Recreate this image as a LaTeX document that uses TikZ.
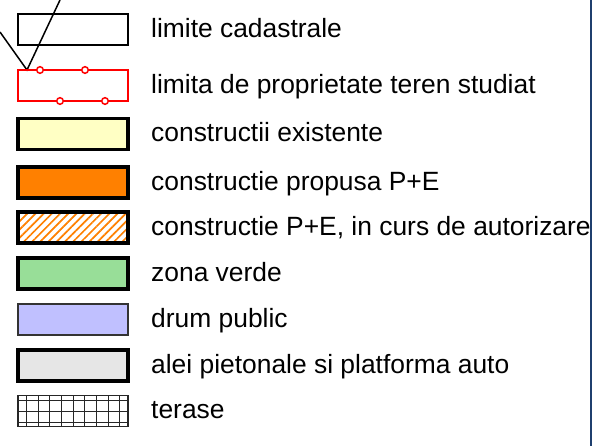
\documentclass[tikz,border=0pt]{standalone}
\usepackage{fontspec}
\setmainfont{Liberation Sans}
\usetikzlibrary{patterns.meta}
\definecolor{galben}{RGB}{255,255,196}
\definecolor{portocaliu}{RGB}{255,128,0}
\definecolor{verde}{RGB}{152,222,152}
\definecolor{albastru}{RGB}{192,192,255}
\definecolor{gri}{RGB}{230,230,230}
\definecolor{chenar}{RGB}{31,63,110}
\begin{document}
\begin{tikzpicture}[x=1pt,y=-1pt,
  caseta/.style={minimum width=110pt,minimum height=31pt,inner sep=0pt,draw,line width=3.5pt},
  eticheta/.style={anchor=base west,inner sep=0pt,font=\fontsize{26.4}{30}\selectfont}]
 \useasboundingbox (0,0) rectangle (595,446);
 % limite
 \node[caseta,line width=2pt] (s1) at (73,30) {};
 \node[eticheta] (t1) at (151,38) {limite cadastrale};
 \coordinate (colt) at (27,70);
 \coordinate (capA) at (0,32);
 \coordinate (capB) at (60,0);
 \draw[line width=1.5pt] (capA)--(colt)--(capB);
 \node[caseta,draw=red,line width=1.5pt] (s2) at (73,85.5) {};
 \foreach \cx/\cy in {40/70,85/70,60/101,105/101}
   \draw[red,line width=1.5pt,fill=white] (\cx,\cy) circle (3.3);
 \node[eticheta] (t2) at (151,93.5) {limita de proprietate teren studiat};
 % zone
 \foreach \i/\cy/\cul/\txt in {3/134/galben/constructii existente,
     4/182.5/portocaliu/constructie propusa P+E,
     6/273.5/verde/zona verde,
     8/365.5/gri/alei pietonale si platforma auto}
   {\node[caseta,fill=\cul] (s\i) at (73,\cy) {};
    \node[eticheta] (t\i) at (151,\cy+8) {\txt};}
 \node[caseta,pattern={Lines[angle=45,distance=5.8pt,line width=1.7pt]},pattern color=portocaliu] (s5) at (73,227.5) {};
 \node[eticheta] (t5) at (151,235.5) {constructie P+E, in curs de autorizare};
 \node[caseta,fill=albastru,draw=black!80,line width=2pt] (s7) at (73,319.5) {};
 \node[eticheta] (t7) at (151,327.5) {drum public};
 % terase
 \node[caseta,line width=1.2pt,draw=black!85] (s9) at (73,411) {};
 \foreach \gx in {26,38,49,61,73,84,96,108,119}
   \draw[black!85,line width=1pt] (\gx,395.5)--(\gx,426.5);
 \foreach \gy in {401,412,423}
   \draw[black!85,line width=1pt] (18,\gy)--(128,\gy);
 \node[eticheta] (t9) at (151,419) {terase};
 \draw[chenar,line width=1.5pt] (591,0)--(591,446);
\end{tikzpicture}
\end{document}
